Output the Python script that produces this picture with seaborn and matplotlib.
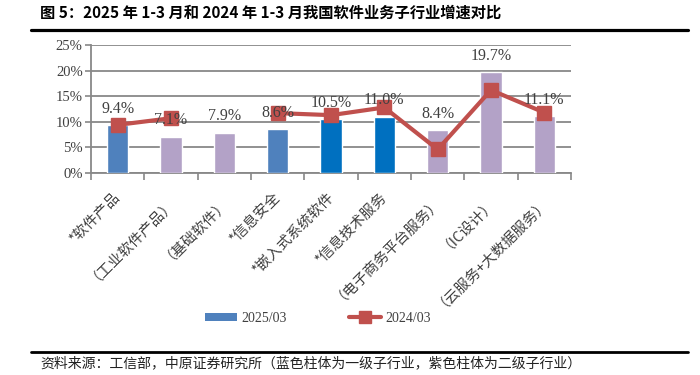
import matplotlib
matplotlib.use("Agg")
import matplotlib.pyplot as plt
import seaborn as sns
import numpy as np
import pandas as pd
from matplotlib.lines import Line2D
from matplotlib.patches import Patch
from matplotlib.ticker import FuncFormatter, FixedLocator

categories = ["*软件产品", "（工业软件产品）", "（基础软件）", "*信息安全", "*嵌入式系统软件",
              "*信息技术服务", "（电子商务平台服务）", "（IC设计）", "（云服务+大数据服务）"]
values_2025 = [9.4, 7.1, 7.9, 8.6, 10.5, 11.0, 8.4, 19.7, 11.1]
values_2024 = [9.4, 10.7, np.nan, 11.7, 11.3, 12.8, 4.6, 16.2, 11.8]
bar_colors = ["#4F81BD", "#B3A2C7", "#B3A2C7", "#4F81BD", "#0070C0",
              "#0070C0", "#B3A2C7", "#B3A2C7", "#B3A2C7"]
y_ticks = [0, 5, 10, 15, 20, 25]

sns.set_theme(style="white")
plt.rcParams['font.family'] = ['Noto Sans CJK SC', 'DejaVu Sans']

SERIF = ['Liberation Serif', 'DejaVu Serif']
TXT = "#404040"
GRID = "#888888"

fig = plt.figure(figsize=(7, 3.75), dpi=100)
ax = fig.add_axes([91/700, 1-173/375, (571-91)/700, (173-45)/375])

df = pd.DataFrame({"cat": categories, "v": values_2025})
sns.barplot(data=df, x="cat", y="v", hue="cat", palette=bar_colors, legend=False,
            width=0.4, ax=ax, saturation=1, zorder=3)

xpos = np.arange(len(categories))
ax.plot(xpos, values_2024, color="#C0504D", lw=3, marker="s", markersize=10,
        zorder=5, solid_joinstyle="miter")

for x, v in zip(xpos, values_2025):
    ax.annotate(f"{v:.1f}%", (x, v), xytext=(0, 6), textcoords="offset points",
                ha="center", va="bottom", fontsize=11.5, color=TXT, family=SERIF, zorder=6)

ax.set_ylim(0, 25)
ax.set_xlim(-0.5, len(categories) - 0.5)
ax.set_yticks(y_ticks)
ax.yaxis.set_major_formatter(FuncFormatter(lambda v, p: f"{v:.0f}%"))
ax.grid(axis="y", color=GRID, lw=1.3, zorder=0)
ax.set_axisbelow(True)
for s in ["top", "right"]:
    ax.spines[s].set_visible(False)
for s in ["left", "bottom"]:
    ax.spines[s].set_color(GRID)
    ax.spines[s].set_linewidth(1.3)
ax.set_xlabel("")
ax.set_ylabel("")

ax.tick_params(axis="y", which="major", left=True, length=4, width=1.2, color=GRID,
               labelsize=10.5, labelcolor=TXT, pad=2)
for lab in ax.get_yticklabels():
    lab.set_family(SERIF)

ax.xaxis.set_minor_locator(FixedLocator(np.arange(-0.5, len(categories), 1.0)))
ax.tick_params(axis="x", which="minor", bottom=True, length=5, width=1.2, color=GRID)
ax.tick_params(axis="x", which="major", bottom=True, length=0, pad=16,
               labelsize=10.5, labelcolor=TXT)
ax.set_xticks(xpos)
ax.set_xticklabels(categories, rotation=45, ha="right", va="center",
                   rotation_mode="anchor")

handles = [Patch(facecolor="#4F81BD", edgecolor="none", label="2025/03"),
           Line2D([0], [0], color="#C0504D", lw=3, marker="s", markersize=8, label="2024/03")]
fig.legend(handles=handles, loc="center", bbox_to_anchor=(318/700, 1-318/375), ncol=2,
           frameon=False, prop={'family': SERIF, 'size': 10}, labelcolor=TXT,
           handlelength=2.3, handleheight=0.5, handletextpad=0.3, columnspacing=4.5)

fig.text(40/700, 1-13/375, "图 5：2025 年 1-3 月和 2024 年 1-3 月我国软件业务子行业增速对比",
         fontsize=11, fontweight="bold", color="black", ha="left", va="center")
fig.add_artist(Line2D([31/700, 688/700], [1-30/375, 1-30/375], color="black", lw=2.3,
                      transform=fig.transFigure))
fig.add_artist(Line2D([31/700, 688/700], [1-352/375, 1-352/375], color="black", lw=2,
                      transform=fig.transFigure))
fig.text(40/700, 1-363/375, "资料来源：工信部，中原证券研究所（蓝色柱体为一级子行业，紫色柱体为二级子行业）",
         fontsize=10, color="#222222", ha="left", va="center")

fig.savefig("out.png", dpi=100)
